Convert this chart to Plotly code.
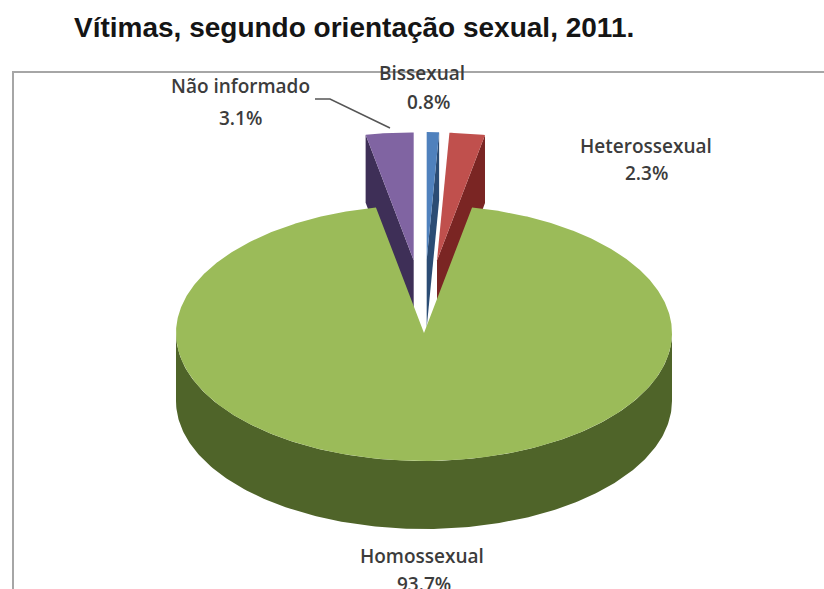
import numpy as np
import plotly.graph_objects as go

# ---- data ----
categories = ["Bissexual", "Heterossexual", "Homossexual", "Não informado"]
percent = [0.8, 2.3, 93.7, 3.1]
pct_labels = ["0.8%", "2.3%", "93.7%", "3.1%"]
top_colors = ["#4F81BD", "#C0504D", "#9BBB59", "#8064A2"]
side_colors = ["#2B4C74", "#7A2523", "#4F6429", "#3E2F57"]
explode = [0.57, 0.57, 0.0, 0.57]
title_text = "Vítimas, segundo orientação sexual, 2011."

# ---- geometry of the 3D pie (pixel space) ----
W, H = 824, 589
CX, CY, RX, RY, DEPTH = 424, 333, 248, 128, 68

total = float(sum(percent))
fig = go.Figure()


def pt(a, ox, oy, r=1.0, dz=0.0):
    return CX + ox + r * RX * np.cos(a), CY + oy - r * RY * np.sin(a) + dz


def add_poly(xs, ys, color):
    fig.add_trace(go.Scatter(x=list(xs) + [xs[0]], y=list(ys) + [ys[0]],
                             mode="lines", fill="toself", fillcolor=color,
                             line=dict(width=0, color=color),
                             hoverinfo="skip", showlegend=False))


slices = []
start = np.pi / 2
for i, v in enumerate(percent):
    span = v / total * 2 * np.pi
    a_hi = start
    a_lo = start - span
    start = a_lo
    mid = (a_hi + a_lo) / 2
    ox = explode[i] * RX * np.cos(mid) * 0.75
    oy = -explode[i] * RY * np.sin(mid)
    slices.append((i, a_lo, a_hi, ox, oy))

# draw exploded (back) slices first, main slice last
order = sorted(slices, key=lambda s: -explode[s[0]])
for i, a_lo, a_hi, ox, oy in order:
    # radial faces
    for a, vis in ((a_hi, np.cos(a_hi) < 0), (a_lo, np.cos(a_lo) > 0)):
        if vis and explode[i] > 0:
            x0, y0 = pt(a, ox, oy, 0.0)
            x1, y1 = pt(a, ox, oy, 1.0)
            add_poly([x0, x1, x1, x0], [y0, y1, y1 + DEPTH, y0 + DEPTH], side_colors[i])
    # outer wall (front half only)
    lo = a_lo % (2 * np.pi)
    hi = lo + (a_hi - a_lo)
    for k in range(-1, 3):
        s = max(lo, np.pi + 2 * np.pi * k)
        e = min(hi, 2 * np.pi + 2 * np.pi * k)
        if e > s:
            aa = np.linspace(s, e, 200)
            xt, yt = pt(aa, ox, oy)
            xs = np.concatenate([xt, xt[::-1]])
            ys = np.concatenate([yt, (yt + DEPTH)[::-1]])
            add_poly(xs, ys, side_colors[i])
    # top face
    aa = np.linspace(a_lo, a_hi, max(8, int((a_hi - a_lo) * 120)))
    xt, yt = pt(aa, ox, oy)
    xa, ya = pt(0.0, ox, oy, 0.0)
    add_poly(np.concatenate([[xa], xt]), np.concatenate([[ya], yt]), top_colors[i])

# leader line for "Não informado"
fig.add_trace(go.Scatter(x=[315, 330, 390], y=[99, 99, 128], mode="lines",
                         line=dict(color="#555555", width=1.5),
                         hoverinfo="skip", showlegend=False))

label_font = dict(family="Open Sans", size=19, color="#3C3C3C", weight=600)
label_pos = {
    "Bissexual": ((422, 73), (428, 102)),
    "Heterossexual": ((646, 146), (646, 173)),
    "Homossexual": ((422, 556), (424, 584)),
    "Não informado": ((240, 86), (240, 118)),
}
for name, pct in zip(categories, pct_labels):
    (nx, ny), (px, py) = label_pos[name]
    fig.add_annotation(x=nx, y=ny, text=name, showarrow=False, font=label_font,
                       xanchor="center", yanchor="middle")
    fig.add_annotation(x=px, y=py, text=pct, showarrow=False, font=label_font,
                       xanchor="center", yanchor="middle")

fig.add_annotation(x=72, y=27, text="<b>" + title_text + "</b>", showarrow=False,
                   font=dict(family="Liberation Sans", size=28, color="#151515"),
                   xanchor="left", yanchor="middle")

# chart frame
fig.add_shape(type="rect", x0=13, y0=72, x1=840, y1=620,
              line=dict(color="#A6A6A6", width=2), layer="below")

fig.update_layout(
    width=W, height=H,
    margin=dict(l=0, r=0, t=0, b=0),
    paper_bgcolor="white", plot_bgcolor="white",
    xaxis=dict(range=[0, W], visible=False, fixedrange=True),
    yaxis=dict(range=[H, 0], visible=False, fixedrange=True),
    showlegend=False,
)

fig.write_html("out.html")
